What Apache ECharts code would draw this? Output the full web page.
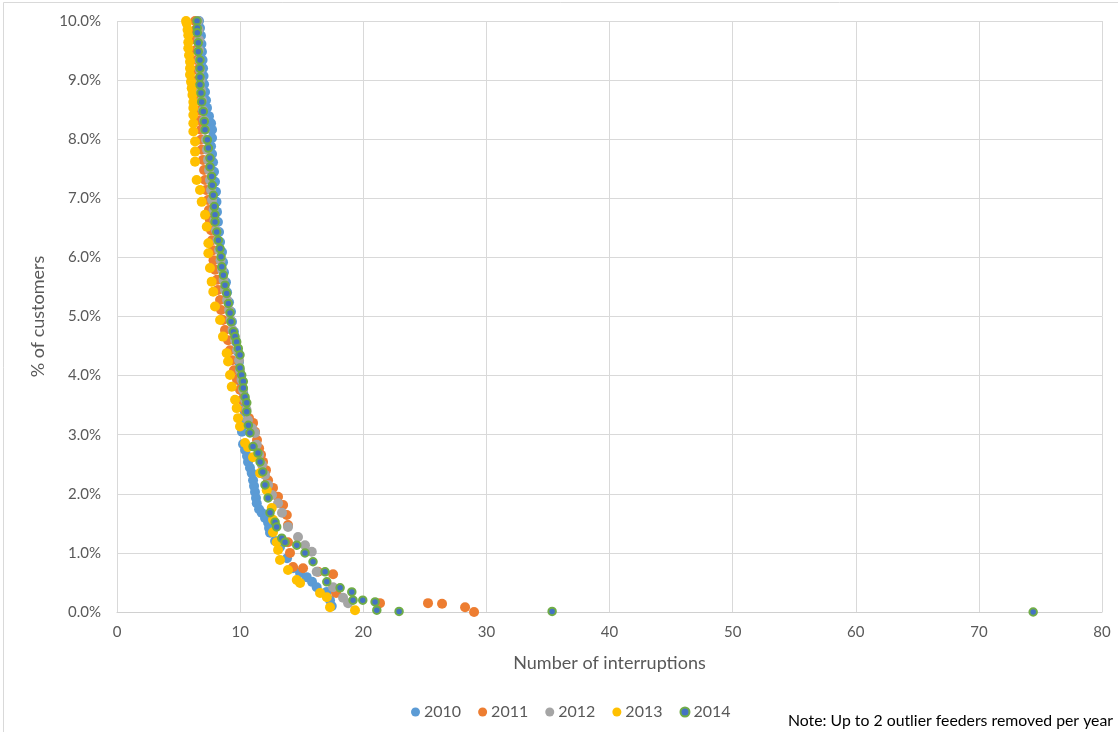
<!DOCTYPE html>
<html>
<head>
<meta charset="utf-8">
<script src="https://cdn.jsdelivr.net/npm/echarts@6/dist/echarts.min.js"></script>
<style>
html,body{margin:0;padding:0;background:#fff;}
#c{width:1118px;height:732px;}
</style>
</head>
<body>
<div id="c"></div>
<script>
const seriesNames = ['2010','2011','2012','2013','2014'];
const xTicks = [0,10,20,30,40,50,60,70,80];
const yTicks = [0,1,2,3,4,5,6,7,8,9,10];

const s2010 = [[6.66,10.0],[6.74,9.88],[6.82,9.75],[6.86,9.61],[6.90,9.48],[6.95,9.34],[6.99,9.20],[7.03,9.07],[7.07,8.93],[7.15,8.80],[7.23,8.66],[7.31,8.53],[7.47,8.39],[7.64,8.27],[7.72,8.16],[7.72,8.02],[7.64,7.88],[7.72,7.75],[7.80,7.61],[7.88,7.45],[7.96,7.28],[8.04,7.11],[8.08,6.94],[8.12,6.77],[8.20,6.60],[8.29,6.43],[8.37,6.26],[8.53,6.09],[8.61,5.92],[8.69,5.75],[8.85,5.58],[8.94,5.41],[9.10,5.24],[9.26,5.08],[9.34,4.91],[9.50,4.74],[9.67,4.57],[9.83,4.40],[9.91,4.23],[9.99,4.06],[10.07,3.89],[10.24,3.72],[10.32,3.55],[10.40,3.38],[10.32,3.21],[10.15,3.05],[10.24,2.84],[10.40,2.74],[10.56,2.64],[10.64,2.54],[10.80,2.44],[10.94,2.35],[11.05,2.23],[11.13,2.13],[11.21,2.03],[11.29,1.93],[11.35,1.84],[11.54,1.74],[11.75,1.68],[12.02,1.59],[12.27,1.51],[12.35,1.42],[12.43,1.34],[12.84,1.20],[13.24,1.10],[13.81,0.91],[14.30,0.74],[14.87,0.66],[15.41,0.59],[15.84,0.51],[16.22,0.42],[17.04,0.34],[17.30,0.20],[17.44,0.10]];

const s2011 = [[6.34,10.0],[6.38,9.85],[6.42,9.68],[6.42,9.51],[6.46,9.34],[6.50,9.17],[6.54,9.00],[6.58,8.83],[6.66,8.66],[6.70,8.49],[6.74,8.32],[6.82,8.16],[6.82,7.99],[6.88,7.82],[6.99,7.65],[7.07,7.48],[7.15,7.31],[7.23,7.14],[7.39,6.97],[7.47,6.80],[7.55,6.63],[7.64,6.46],[7.72,6.29],[7.80,6.12],[7.84,5.95],[7.96,5.79],[8.12,5.62],[8.20,5.45],[8.37,5.28],[8.45,5.11],[8.61,4.94],[8.77,4.77],[9.02,4.60],[9.18,4.43],[9.34,4.26],[9.50,4.09],[9.75,3.93],[9.99,3.76],[10.15,3.59],[10.40,3.42],[10.72,3.28],[11.05,3.20],[11.21,3.05],[11.37,2.91],[11.54,2.77],[11.70,2.66],[11.86,2.54],[12.10,2.40],[12.27,2.23],[12.67,2.10],[13.08,1.95],[13.49,1.81],[13.79,1.64],[13.89,1.47],[13.89,1.18],[14.05,1.00],[14.30,0.76],[15.11,0.74],[16.33,0.68],[17.55,0.64],[17.79,0.32],[21.36,0.15],[25.26,0.15],[26.40,0.14],[28.27,0.08],[29.00,0.0]];

const s2012 = [[6.58,10.0],[6.62,9.85],[6.66,9.68],[6.66,9.51],[6.70,9.34],[6.74,9.17],[6.78,9.00],[6.82,8.83],[6.90,8.66],[6.99,8.49],[7.07,8.32],[7.15,8.16],[7.23,7.99],[7.31,7.82],[7.39,7.65],[7.47,7.48],[7.55,7.31],[7.64,7.14],[7.72,6.97],[7.84,6.80],[7.92,6.63],[8.04,6.46],[8.16,6.29],[8.29,6.12],[8.41,5.95],[8.53,5.79],[8.65,5.62],[8.77,5.45],[8.94,5.28],[9.10,5.11],[9.22,4.94],[9.38,4.77],[9.59,4.60],[9.75,4.43],[9.91,4.26],[9.99,4.09],[10.11,3.93],[10.24,3.76],[10.40,3.59],[10.52,3.42],[10.64,3.25],[10.97,3.11],[11.21,3.03],[11.35,2.83],[11.54,2.66],[11.78,2.49],[12.02,2.32],[12.27,2.15],[12.59,1.98],[13.08,1.84],[13.40,1.68],[13.89,1.44],[14.70,1.27],[15.27,1.13],[15.82,1.02],[16.22,0.68],[17.55,0.42],[18.36,0.24],[18.77,0.15]];

const s2013 = [[5.61,10.0],[5.66,9.96],[5.73,9.85],[5.79,9.76],[5.79,9.64],[5.79,9.54],[5.85,9.42],[5.93,9.31],[5.93,9.20],[5.93,9.09],[6.01,8.97],[6.07,8.86],[6.13,8.75],[6.20,8.63],[6.20,8.53],[6.20,8.41],[6.20,8.27],[6.20,8.13],[6.34,7.96],[6.34,7.79],[6.34,7.62],[6.47,7.31],[6.74,7.14],[6.88,6.94],[7.15,6.72],[7.29,6.52],[7.42,6.24],[7.42,6.07],[7.55,5.82],[7.69,5.59],[7.82,5.42],[7.96,5.17],[8.37,4.94],[8.61,4.66],[8.91,4.38],[9.02,4.24],[9.18,4.01],[9.32,3.81],[9.59,3.59],[9.72,3.45],[9.83,3.28],[9.99,3.14],[10.40,2.86],[10.64,2.79],[11.05,2.62],[11.62,2.35],[12.16,2.06],[12.57,1.76],[12.67,1.56],[12.67,1.35],[12.97,1.18],[13.08,1.05],[13.24,0.88],[13.89,0.71],[14.60,0.54],[14.87,0.49],[16.49,0.32],[17.04,0.25],[17.30,0.08],[19.33,0.03]];

const s2014 = [[6.50,10.0],[6.52,9.88],[6.52,9.80],[6.60,9.63],[6.60,9.48],[6.74,9.34],[6.74,9.20],[6.74,9.05],[6.74,8.92],[6.82,8.78],[6.88,8.63],[7.01,8.47],[7.09,8.30],[7.15,8.16],[7.34,7.99],[7.42,7.85],[7.55,7.68],[7.55,7.53],[7.69,7.37],[7.74,7.22],[7.82,7.05],[7.90,6.86],[7.96,6.72],[7.96,6.60],[8.10,6.43],[8.23,6.29],[8.37,6.15],[8.45,6.01],[8.51,5.84],[8.64,5.70],[8.77,5.53],[8.91,5.39],[9.04,5.22],[9.18,5.06],[9.26,4.91],[9.45,4.74],[9.59,4.66],[9.72,4.57],[9.85,4.46],[9.99,4.35],[9.99,4.13],[10.13,4.01],[10.26,3.90],[10.26,3.79],[10.40,3.64],[10.54,3.54],[10.54,3.39],[10.67,3.16],[10.80,3.03],[11.05,2.80],[11.45,2.69],[11.62,2.54],[11.84,2.37],[12.02,2.15],[12.27,1.93],[12.43,1.68],[12.84,1.52],[12.97,1.44],[13.38,1.25],[13.65,1.18],[14.60,1.13],[15.27,1.00],[15.92,0.85],[16.90,0.68],[17.04,0.51],[18.12,0.41],[19.07,0.34],[19.17,0.20],[19.96,0.20],[20.96,0.17],[21.10,0.03],[22.91,0.01],[35.34,0.01],[74.41,0.0]];

const seriesData = [s2010, s2011, s2012, s2013, s2014];
const colors = ['#5B9BD5','#ED7D31','#A5A5A5','#FFC000','#4472C4'];

const FONT = 'Lato, "Open Sans", sans-serif';
const chart = echarts.init(document.getElementById('c'), null, {renderer:'canvas'});

const series = seriesNames.map((n,i)=>({
  name:n,
  type:'scatter',
  data:seriesData[i],
  symbol:'circle',
  symbolSize: i===4 ? 7.5 : 10,
  itemStyle: i===4 ? {color:colors[i], borderColor:'#70AD47', borderWidth:2, opacity:1} : {color:colors[i], opacity:1},
  emphasis:{disabled:true},
  animation:false
}));

chart.setOption({
  animation:false,
  backgroundColor:'#ffffff',
  color:colors,
  grid:{left:117, right:16, top:21, bottom:120, containLabel:false},
  xAxis:{
    type:'value', min:xTicks[0], max:xTicks[xTicks.length-1], interval:10,
    name:'Number of interruptions', nameLocation:'middle', nameGap:42,
    nameTextStyle:{fontFamily:FONT, fontSize:18, color:'#595959'},
    axisLine:{show:true, lineStyle:{color:'#d0d0d0', width:1}},
    axisTick:{show:false},
    axisLabel:{fontFamily:FONT, fontSize:15, color:'#595959', margin:13},
    splitLine:{show:true, lineStyle:{color:'#d9d9d9', width:1}}
  },
  yAxis:{
    type:'value', min:yTicks[0], max:yTicks[yTicks.length-1], interval:1,
    name:'% of customers', nameLocation:'middle', nameGap:70,
    nameTextStyle:{fontFamily:FONT, fontSize:18, color:'#595959'},
    axisLine:{show:false}, axisTick:{show:false},
    axisLabel:{fontFamily:FONT, fontSize:15, color:'#595959', margin:16,
      formatter:v=>v.toFixed(1)+'%'},
    splitLine:{show:true, lineStyle:{color:'#d9d9d9', width:1}}
  },
  legend:{
    data:seriesNames.map((n,i)=> i===4 ? {name:n, itemStyle:{color:colors[4], borderColor:'#70AD47', borderWidth:2}} : {name:n}),
    left:406, top:699, itemWidth:9, itemHeight:9, itemGap:17, icon:'circle',
    textStyle:{fontFamily:FONT, fontSize:16, color:'#595959', padding:[0,0,0,-1]}
  },
  graphic:[
    {type:'line', shape:{x1:3.5,y1:2.5,x2:1118,y2:2.5}, style:{stroke:'#d9d9d9', lineWidth:1}, silent:true},
    {type:'line', shape:{x1:3.5,y1:2.5,x2:3.5,y2:732}, style:{stroke:'#d9d9d9', lineWidth:1}, silent:true},
    {type:'text', right:5, top:713, style:{text:'Note: Up to 2 outlier feeders removed per year', fontFamily:FONT, fontSize:15.8, fill:'#000000'}, silent:true}
  ],
  series:series
});
</script>
</body>
</html>
